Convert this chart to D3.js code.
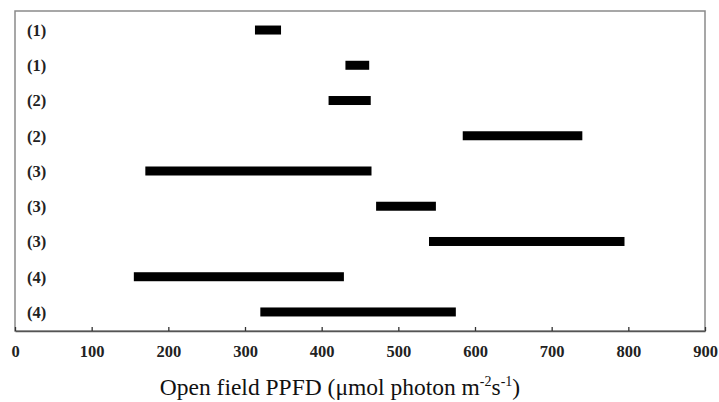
<!DOCTYPE html>
<html>
<head>
<meta charset="utf-8">
<script src="https://cdn.jsdelivr.net/npm/d3@7"></script>
<style>
  body { margin: 0; background: #fff; }
  svg text { font-family: "Liberation Serif", "Times New Roman", serif; }
</style>
</head>
<body>
<div id="chart"></div>
<script>
// row labels, top to bottom
const labels = ['(1)', '(1)', '(2)', '(2)', '(3)', '(3)', '(3)', '(4)', '(4)'];
// PPFD range start / end for each row
const lows  = [313, 431, 409, 584, 170, 471, 540, 155, 320];
const highs = [347, 462, 464, 740, 465, 549, 795, 429, 575];
const xTicks = [0, 100, 200, 300, 400, 500, 600, 700, 800, 900];

const width = 719, height = 402;
const margin = { top: 11, right: 14, bottom: 71, left: 15 };
const w = width - margin.left - margin.right;
const h = height - margin.top - margin.bottom;

const svg = d3.select('#chart').append('svg')
  .attr('width', width)
  .attr('height', height);

const g = svg.append('g')
  .attr('transform', `translate(${margin.left}, ${margin.top})`);

const x = d3.scaleLinear().domain([0, 900]).range([0, w]);
const y = d3.scaleBand()
  .domain(labels.map((d, i) => i))
  .range([0, h])
  .paddingInner(0)
  .paddingOuter(0.04);

// frame
g.append('rect')
  .attr('x', 0).attr('y', 0)
  .attr('width', w).attr('height', h)
  .attr('fill', 'none')
  .attr('stroke', '#8a8a8a')
  .attr('stroke-width', 1.5);

// bottom axis, ticks pointing inward
const xAxis = g.append('g')
  .attr('transform', `translate(0, ${h})`)
  .call(d3.axisBottom(x).tickValues(xTicks).tickSizeInner(-4).tickSizeOuter(0).tickPadding(14));
xAxis.select('.domain').attr('stroke', '#555').attr('stroke-width', 1.5);
xAxis.selectAll('.tick line').attr('stroke', '#333').attr('stroke-width', 1.3);
xAxis.selectAll('.tick text')
  .attr('font-size', 16.5)
  .attr('font-weight', 'bold')
  .attr('fill', '#222')
  .attr('font-family', '"Liberation Serif", serif');

// row labels
g.selectAll('.rowlab')
  .data(labels)
  .enter()
  .append('text')
  .attr('class', 'rowlab')
  .attr('x', 12)
  .attr('y', (d, i) => y(i) + y.bandwidth() / 2)
  .attr('dy', '0.35em')
  .attr('font-size', 16.5)
  .attr('font-weight', 'bold')
  .attr('fill', '#222')
  .text(d => d);

// range bars
const barH = 9;
g.selectAll('.bar')
  .data(labels)
  .enter()
  .append('rect')
  .attr('class', 'bar')
  .attr('x', (d, i) => x(lows[i]))
  .attr('y', (d, i) => y(i) + y.bandwidth() / 2 - barH / 2)
  .attr('width', (d, i) => x(highs[i]) - x(lows[i]))
  .attr('height', barH)
  .attr('fill', '#000');

// axis title
const title = svg.append('text')
  .attr('x', 340)
  .attr('y', 395)
  .attr('text-anchor', 'middle')
  .attr('font-size', 23.5)
  .attr('fill', '#111');
title.append('tspan').text('Open field PPFD (\u03bcmol photon m');
title.append('tspan').attr('dy', -9).attr('font-size', 14).text('-2');
title.append('tspan').attr('dy', 9).text('s');
title.append('tspan').attr('dy', -9).attr('font-size', 14).text('-1');
title.append('tspan').attr('dy', 9).text(')');
</script>
</body>
</html>
